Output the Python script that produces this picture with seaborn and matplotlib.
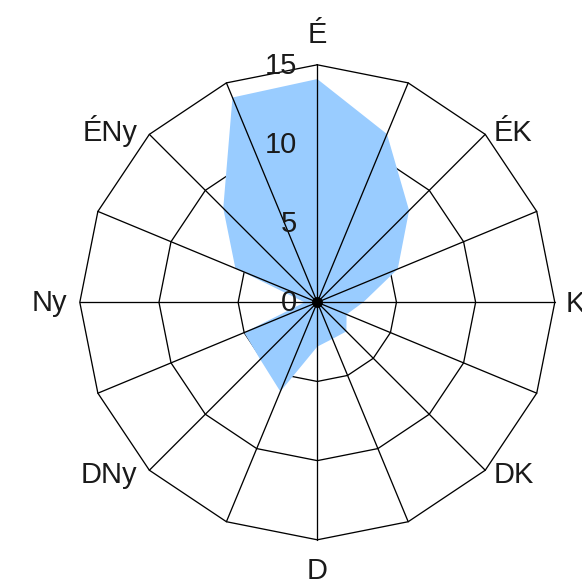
import numpy as np
import pandas as pd
import matplotlib
matplotlib.use("Agg")
import matplotlib.pyplot as plt
import seaborn as sns

# ---- data ----
directions = ["É", "ÉÉK", "ÉK", "KÉK", "K", "KDK", "DK", "DDK",
              "D", "DDNy", "DNy", "NyDNy", "Ny", "NyÉNy", "ÉNy", "ÉÉNy"]
shown_labels = ["É", "", "ÉK", "", "K", "", "DK", "",
                "D", "", "DNy", "", "Ny", "", "ÉNy", ""]
values = [14.1, 11.5, 8.2, 5.5, 2.9, 2.0, 2.6, 2.5,
          2.8, 6.1, 5.1, 5.0, 0.8, 5.6, 8.4, 14.0]
ring_values = [5, 10, 15]
tick_values = [0, 5, 10, 15]
tick_labels = ["0", "5", "10", "15"]

sns.set_style("white")
plt.rcParams['font.family'] = ['Liberation Sans', 'DejaVu Sans']

W, H, DPI = 582, 586, 72
fig = plt.figure(figsize=(W / DPI, H / DPI), dpi=DPI)
ax = fig.add_axes([0, 0, 1, 1])

rmax = max(ring_values)
cx, cy, rpx = 317.3, 302.3, 237.5
scale = rmax / rpx
ax.set_xlim(-cx * scale, (W - cx) * scale)
ax.set_ylim(-(H - cy) * scale, cy * scale)
ax.axis("off")

n = len(directions)
theta = np.arange(n) * 2 * np.pi / n
df = pd.DataFrame({"dir": directions, "value": values, "theta": theta})
df["x"] = df["value"] * np.sin(df["theta"])
df["y"] = df["value"] * np.cos(df["theta"])

line_kw = dict(color="black", lw=1.3, solid_joinstyle="miter")

# rings (under the fill)
for rv in ring_values:
    xs = np.append(rv * np.sin(theta), rv * np.sin(theta[0]))
    ys = np.append(rv * np.cos(theta), rv * np.cos(theta[0]))
    ax.plot(xs, ys, zorder=1, **line_kw)

# filled series
ax.fill(df["x"], df["y"], color="#99CCFF", lw=0, zorder=2)

# spokes (on top)
for t in theta:
    ax.plot([0, rmax * np.sin(t)], [0, rmax * np.cos(t)], zorder=3, **line_kw)

sns.scatterplot(x=[0], y=[0], s=100, color="black", edgecolor="black",
                zorder=4, ax=ax, legend=False)

# category labels
offsets = {"É": (0, 22, "center"), "ÉK": (8, -6.6, "left"),
           "K": (11, -9.4, "left"), "DK": (8, -12.3, "left"),
           "D": (0, -39, "center"), "DNy": (-12, -12.3, "right"),
           "Ny": (-13, -9, "right"), "ÉNy": (-12, -6.6, "right")}
txt_color = "#1a1a1a"
for lab, t in zip(shown_labels, theta):
    if not lab:
        continue
    dx, dy, ha = offsets[lab]
    ax.annotate(lab, xy=(rmax * np.sin(t), rmax * np.cos(t)),
                xytext=(dx, dy), textcoords="offset pixels",
                ha=ha, va="baseline", fontsize=29, color=txt_color,
                annotation_clip=False, zorder=5)

# value axis labels
for tv, tl in zip(tick_values, tick_labels):
    ax.annotate(tl, xy=(0, tv), xytext=(-20, -9), textcoords="offset pixels",
                ha="right", va="baseline", fontsize=29, color=txt_color,
                annotation_clip=False, zorder=5)

fig.savefig("out.png", dpi=DPI)
